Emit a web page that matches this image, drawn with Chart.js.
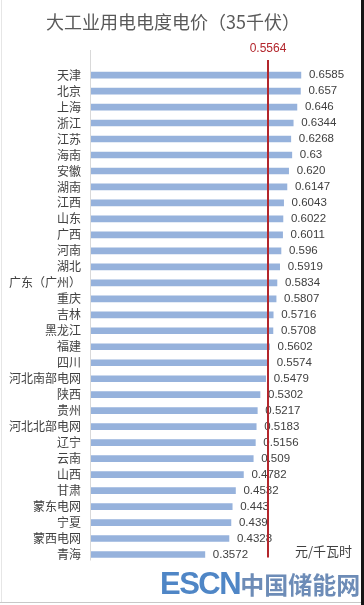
<!DOCTYPE html>
<html>
<head>
<meta charset="utf-8">
<script src="https://cdn.jsdelivr.net/npm/chart.js@4/dist/chart.umd.min.js"></script>
<style>
    html, body { margin: 0; padding: 0; background: #fff; }
    #wrap { position: relative; width: 364px; height: 605px; overflow: hidden; }
    #chart { position: absolute; left: 0; top: 0; }
    .edge-r { position: absolute; right: 0; top: 0; width: 3px; height: 605px; background: #151515; }
    .edge-b { position: absolute; left: 0; bottom: 2px; width: 361px; height: 1px; background: #c8c8c8; }
    .edge-l { position: absolute; left: 1px; top: 0; width: 1px; height: 603px; background: #e6e6e6; }
    .mark { position: absolute; left: 160px; top: 567px; white-space: nowrap; font-weight: bold; line-height: 34px; }
    .mark .en { font-family: "Liberation Sans", Arial, sans-serif; font-size: 31px; color: #4f86c6; letter-spacing: -1.5px; }
    .mark .cn { font-family: "Noto Sans CJK SC", sans-serif; font-size: 24px; color: #6d8cb7; }
</style>
</head>
<body>
<div id="wrap">
    <canvas id="chart" width="364" height="605"></canvas>
    <div class="edge-l"></div>
    <div class="edge-b"></div>
    <div class="edge-r"></div>
    <div class="mark"><span class="en">ESCN</span><span class="cn">中国储能网</span></div>
</div>
<script>
// 数据
const chartTitle = '大工业用电电度电价（35千伏）';
const provinces = ['天津', '北京', '上海', '浙江', '江苏', '海南', '安徽', '湖南', '江西', '山东',
    '广西', '河南', '湖北', '广东（广州）', '重庆', '吉林', '黑龙江', '福建', '四川', '河北南部电网',
    '陕西', '贵州', '河北北部电网', '辽宁', '云南', '山西', '甘肃', '蒙东电网', '宁夏', '蒙西电网', '青海'];
const prices = ['0.6585', '0.657', '0.646', '0.6344', '0.6268', '0.63', '0.620', '0.6147', '0.6043', '0.6022',
    '0.6011', '0.596', '0.5919', '0.5834', '0.5807', '0.5716', '0.5708', '0.5602', '0.5574', '0.5479',
    '0.5302', '0.5217', '0.5183', '0.5156', '0.509', '0.4782', '0.4532', '0.443', '0.439', '0.4328', '0.3572'];
const avgPrice = 0.5564;
const avgLabel = '0.5564';
const unitLabel = '元/千瓦时';

const CJK = '"Noto Sans CJK SC", sans-serif';
const NUM = '"Liberation Sans", Arial, sans-serif';

// 标签、均值线、单位
const overlay = {
    id: 'overlay',
    beforeDatasetsDraw(chart) {
        const { ctx, chartArea } = chart;
        ctx.save();
        ctx.strokeStyle = '#d9d9d9';
        ctx.lineWidth = 1;
        ctx.beginPath();
        ctx.moveTo(chartArea.left - 0.5, 50);
        ctx.lineTo(chartArea.left - 0.5, chartArea.bottom - 2);
        ctx.stroke();
        ctx.restore();
    },
    afterDatasetsDraw(chart) {
        const { ctx, chartArea } = chart;
        const meta = chart.getDatasetMeta(0);
        ctx.save();
        ctx.font = '11.5px ' + NUM;
        ctx.fillStyle = '#404040';
        ctx.textBaseline = 'middle';
        ctx.textAlign = 'left';
        meta.data.forEach((bar, i) => {
            ctx.fillText(prices[i], bar.x + 8, bar.y);
        });

        const x = Math.round(chart.scales.x.getPixelForValue(avgPrice));
        ctx.strokeStyle = '#b3262c';
        ctx.lineWidth = 2;
        ctx.beginPath();
        ctx.moveTo(x, 60);
        ctx.lineTo(x, chartArea.bottom - 5);
        ctx.stroke();

        ctx.fillStyle = '#b3262c';
        ctx.font = '12px ' + NUM;
        ctx.textAlign = 'center';
        ctx.fillText(avgLabel, x, 49);

        ctx.fillStyle = '#404040';
        ctx.font = '13px ' + CJK;
        ctx.textAlign = 'left';
        ctx.fillText(unitLabel, 295, 551);
        ctx.restore();
    }
};

new Chart(document.getElementById('chart'), {
    type: 'bar',
    data: {
        labels: provinces,
        datasets: [{
            data: prices.map(Number),
            backgroundColor: '#96b2dc',
            barThickness: 6
        }]
    },
    options: {
        indexAxis: 'y',
        responsive: false,
        animation: false,
        layout: { padding: { left: 0, right: 18, top: 0, bottom: 42.5 } },
        plugins: {
            legend: { display: false },
            tooltip: { enabled: false },
            title: {
                display: true,
                text: chartTitle,
                color: '#595959',
                font: { family: CJK, size: 18, weight: 'normal', lineHeight: 1.2 },
                padding: { top: 11, bottom: 34.5 }
            }
        },
        scales: {
            x: { display: false, min: 0, max: 0.8 },
            y: {
                grid: { display: false, drawTicks: false },
                border: { display: false },
                ticks: {
                    color: '#404040',
                    padding: 10,
                    autoSkip: false,
                    font: { family: CJK, size: 12 }
                },
                afterFit(scale) { scale.width = 91; }
            }
        }
    },
    plugins: [overlay]
});
</script>
</body>
</html>
